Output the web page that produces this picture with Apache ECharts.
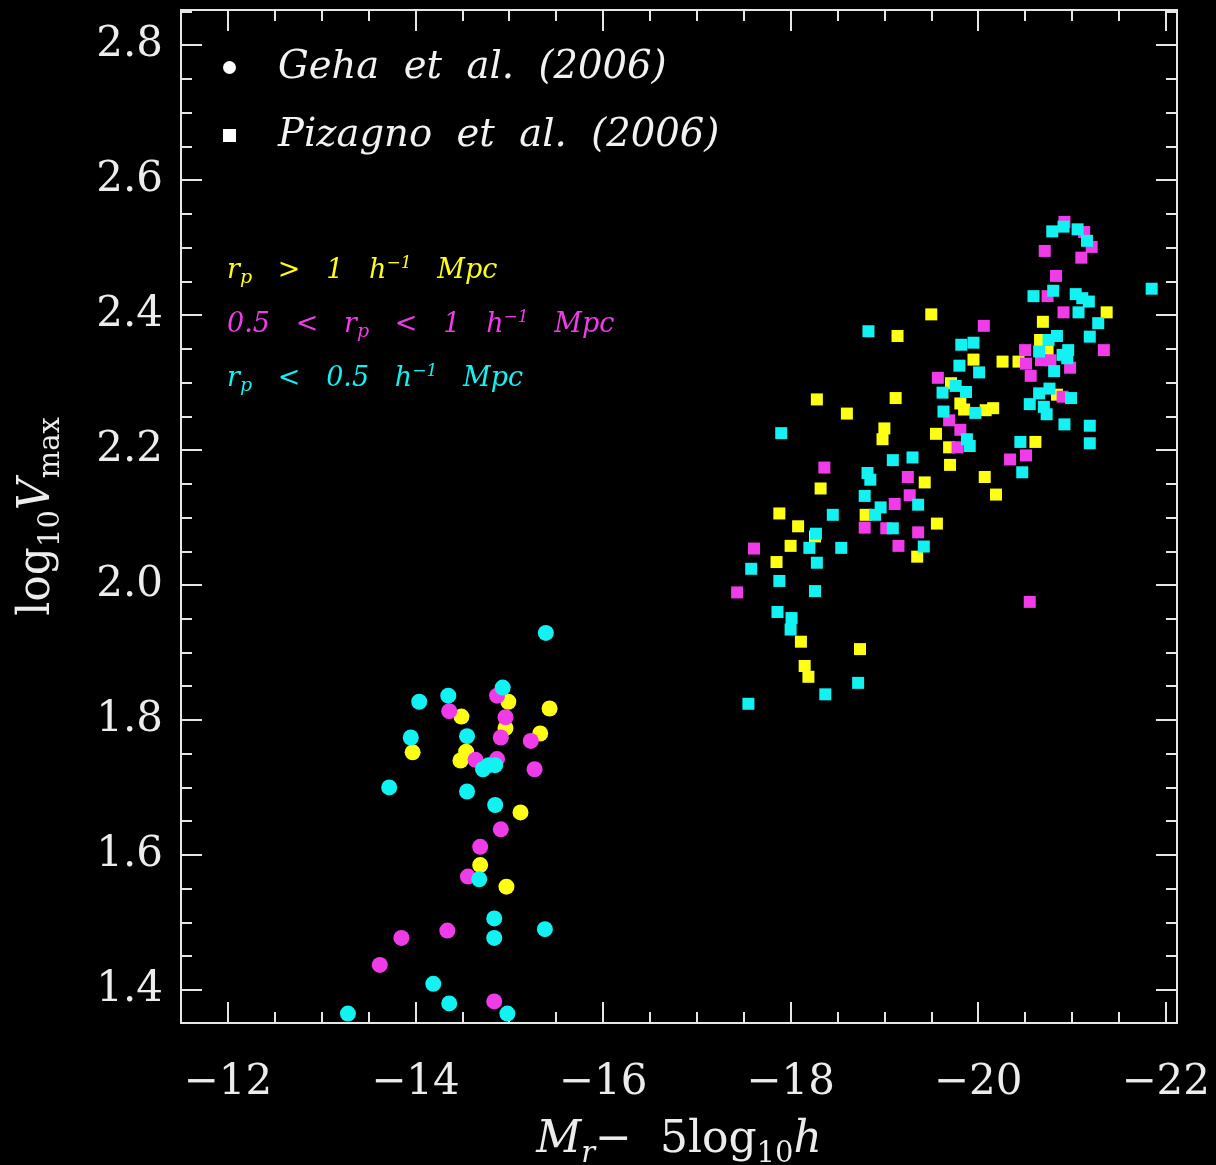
<!DOCTYPE html>
<html>
<head>
<meta charset="utf-8">
<script src="https://cdn.jsdelivr.net/npm/echarts@6/dist/echarts.min.js"></script>
<style>
html,body{margin:0;padding:0;background:#000;}
#chart{width:1216px;height:1165px;}
</style>
</head>
<body>
<div id="chart"></div>
<script>
// ---------- data ----------
const xMajorTicks = [-22, -20, -18, -16, -14, -12];
const xMinorTicks = [-22, -21.5, -21, -20.5, -20, -19.5, -19, -18.5, -18, -17.5, -17, -16.5, -16, -15.5, -15, -14.5, -14, -13.5, -13, -12.5, -12];
const yMajorTicks = [1.4, 1.6, 1.8, 2.0, 2.2, 2.4, 2.6, 2.8];
const yMinorTicks = [1.35, 1.4, 1.45, 1.5, 1.55, 1.6, 1.65, 1.7, 1.75, 1.8, 1.85, 1.9, 1.95, 2.0, 2.05, 2.1, 2.15, 2.2, 2.25, 2.3, 2.35, 2.4, 2.45, 2.5, 2.55, 2.6, 2.65, 2.7, 2.75, 2.8, 2.85];

// Geha et al. (2006) -- circles
const gehaYellow = [[-14.99,1.827],[-15.43,1.817],[-14.49,1.805],[-14.96,1.788],[-15.33,1.780],[-13.97,1.752],[-14.54,1.753],[-14.48,1.740],[-15.12,1.663],[-14.69,1.585],[-14.97,1.553]];
const gehaMagenta = [[-14.87,1.836],[-14.36,1.813],[-14.96,1.804],[-14.91,1.774],[-15.23,1.769],[-14.64,1.741],[-14.87,1.742],[-15.27,1.727],[-14.91,1.638],[-14.69,1.612],[-14.56,1.568],[-14.34,1.488],[-13.85,1.477],[-13.62,1.437],[-14.84,1.383]];
const gehaCyan = [[-15.39,1.929],[-14.93,1.848],[-14.04,1.827],[-14.35,1.836],[-13.95,1.774],[-14.55,1.776],[-14.78,1.733],[-14.85,1.733],[-14.72,1.727],[-13.72,1.700],[-14.55,1.694],[-14.85,1.674],[-14.68,1.564],[-14.84,1.506],[-15.38,1.490],[-14.84,1.477],[-14.19,1.409],[-14.36,1.380],[-14.98,1.365],[-13.28,1.365]];

// Pizagno et al. (2006) -- squares
const pizagnoYellow = [[-19.50,2.401],[-19.14,2.369],[-18.28,2.275],[-19.12,2.277],[-18.60,2.254],[-19.00,2.232],[-18.98,2.216],[-19.55,2.224],[-18.32,2.143],[-19.43,2.152],[-17.88,2.106],[-18.80,2.104],[-19.56,2.091],[-19.35,2.042],[-18.08,2.087],[-18.26,2.072],[-18.00,2.058],[-17.85,2.034],[-18.11,1.916],[-18.74,1.905],[-18.15,1.880],[-18.19,1.864],[-21.37,2.404],[-20.69,2.390],[-20.66,2.363],[-20.74,2.348],[-20.26,2.331],[-20.43,2.331],[-20.84,2.282],[-20.61,2.212],[-19.95,2.334],[-19.71,2.299],[-19.81,2.269],[-19.85,2.260],[-20.08,2.259],[-20.16,2.262],[-19.69,2.204],[-19.70,2.178],[-20.07,2.160],[-20.19,2.134]];
const pizagnoMagenta = [[-18.36,2.174],[-19.25,2.160],[-19.27,2.133],[-19.11,2.120],[-18.79,2.085],[-19.02,2.084],[-19.36,2.078],[-19.15,2.058],[-17.61,2.054],[-17.43,1.989],[-20.92,2.538],[-21.13,2.523],[-21.21,2.501],[-20.71,2.495],[-21.10,2.485],[-20.83,2.458],[-20.74,2.428],[-20.91,2.404],[-21.34,2.348],[-20.50,2.348],[-20.51,2.328],[-20.67,2.333],[-20.77,2.333],[-20.98,2.322],[-20.56,2.310],[-20.90,2.279],[-20.06,2.384],[-19.57,2.307],[-19.69,2.244],[-19.81,2.230],[-19.78,2.204],[-20.34,2.186],[-20.51,2.192],[-20.55,1.975]];
const pizagnoCyan = [[-18.83,2.376],[-17.90,2.225],[-19.09,2.185],[-19.30,2.189],[-18.82,2.166],[-18.85,2.156],[-18.79,2.132],[-18.45,2.104],[-18.96,2.115],[-18.90,2.104],[-19.36,2.119],[-19.09,2.084],[-19.42,2.057],[-18.27,2.076],[-18.20,2.055],[-18.54,2.055],[-18.28,2.033],[-17.58,2.024],[-17.88,2.006],[-18.26,1.991],[-17.86,1.960],[-18.01,1.951],[-18.00,1.934],[-18.72,1.855],[-18.37,1.838],[-17.55,1.824],[-20.79,2.524],[-20.91,2.531],[-21.06,2.527],[-21.16,2.510],[-20.59,2.428],[-20.80,2.436],[-21.04,2.431],[-21.11,2.425],[-21.18,2.420],[-21.07,2.404],[-21.28,2.388],[-21.19,2.368],[-20.75,2.363],[-20.84,2.369],[-20.65,2.346],[-20.90,2.341],[-20.96,2.348],[-20.95,2.336],[-20.81,2.317],[-20.65,2.284],[-20.76,2.291],[-20.99,2.277],[-20.55,2.268],[-20.70,2.264],[-20.73,2.253],[-20.92,2.238],[-21.19,2.236],[-20.45,2.212],[-21.19,2.210],[-21.85,2.439],[-19.82,2.356],[-19.95,2.359],[-19.80,2.325],[-20.01,2.315],[-19.62,2.285],[-19.76,2.295],[-19.87,2.286],[-19.97,2.255],[-19.63,2.257],[-19.88,2.216],[-19.91,2.206],[-20.47,2.167]];

const GEHA = 'Geha et al. (2006)';
const PIZ = 'Pizagno et al. (2006)';

// ---------- style ----------
const YELLOW = '#ffff14';
const MAGENTA = '#f03ce8';
const CYAN = '#12f2f2';
const FRAME = '#e6e6e6';
const TICKFONT = 'DejaVu Serif';

const chart = echarts.init(document.getElementById('chart'), null, {renderer: 'canvas'});

function minusFmt(v) {
  return v < 0 ? '\u2212' + Math.abs(v) : String(v);
}

function axisBase(extra) {
  return Object.assign({
    type: 'value',
    gridIndex: 0,
    splitLine: {show: false},
    axisLine: {show: true, onZero: false, lineStyle: {color: FRAME, width: 2}},
    axisLabel: {show: false},
    axisPointer: {show: false}
  }, extra);
}

const X_MIN = -22.12, X_MAX = -11.5;
const Y_MIN = 1.351, Y_MAX = 2.852;

function xAxisCfg(position, ticks, len, labels) {
  return axisBase({
    position: position, inverse: true, min: X_MIN, max: X_MAX,
    axisTick: {show: true, inside: true, length: len, customValues: ticks, lineStyle: {color: FRAME, width: 2}},
    axisLabel: labels ? {
      show: true, customValues: ticks, margin: 39, color: '#ececec',
      fontFamily: TICKFONT, fontSize: 42, formatter: minusFmt
    } : {show: false}
  });
}
function yAxisCfg(position, ticks, len, labels) {
  return axisBase({
    position: position, min: Y_MIN, max: Y_MAX,
    axisTick: {show: true, inside: true, length: len, customValues: ticks, lineStyle: {color: FRAME, width: 2}},
    axisLabel: labels ? {
      show: true, customValues: ticks, margin: 18, color: '#ececec',
      fontFamily: TICKFONT, fontSize: 42, formatter: v => v.toFixed(1)
    } : {show: false}
  });
}

const nameRich = {
  it: {fontFamily: 'DejaVu Serif', fontStyle: 'italic', fontSize: 44, color: '#ececec', lineHeight: 50, verticalAlign: 'middle'},
  rm: {fontFamily: 'DejaVu Serif', fontSize: 44, color: '#ececec', lineHeight: 50, verticalAlign: 'middle'},
  sub: {fontFamily: 'DejaVu Serif', fontSize: 29, color: '#ececec', lineHeight: 29, padding: [26, 0, 0, 0], verticalAlign: 'middle'},
  subit: {fontFamily: 'DejaVu Serif', fontStyle: 'italic', fontSize: 29, color: '#ececec', lineHeight: 29, padding: [26, 0, 0, 0], verticalAlign: 'middle'}
};

const xMain = xAxisCfg('bottom', xMajorTicks, 21, true);
xMain.name = '{it|M}{subit|r}{rm|\u2212  5log}{sub|10}{it|h}';
xMain.nameLocation = 'middle';
xMain.nameGap = 93;
xMain.nameTextStyle = {color: '#ececec', rich: nameRich};

const yMain = yAxisCfg('left', yMajorTicks, 21, true);
yMain.name = '{rm|log}{sub|10}{it|V}{sub|max}';
yMain.nameLocation = 'middle';
yMain.nameRotate = 90;
yMain.nameGap = 118;
yMain.nameTextStyle = {color: '#ececec', rich: nameRich};

function annRich(color) {
  return {
    i: {fontFamily: 'DejaVu Serif', fontStyle: 'italic', fontSize: 27, fill: color, color: color, lineHeight: 30, verticalAlign: 'middle'},
    s: {fontFamily: 'DejaVu Serif', fontStyle: 'italic', fontSize: 19, fill: color, color: color, lineHeight: 19, padding: [15, 0, 0, 0], verticalAlign: 'middle'},
    u: {fontFamily: 'DejaVu Serif', fontStyle: 'italic', fontSize: 17, fill: color, color: color, lineHeight: 17, padding: [0, 0, 15, 0], verticalAlign: 'middle'}
  };
}

function scatter(name, symbol, size, color, data) {
  return {
    type: 'scatter', name: name, symbol: symbol, symbolSize: size,
    itemStyle: {color: color, opacity: 1},
    emphasis: {disabled: true},
    xAxisIndex: 0, yAxisIndex: 0,
    data: data, animation: false
  };
}

const option = {
  backgroundColor: '#000',
  animation: false,
  grid: {left: 181, right: 39, top: 10, bottom: 142, containLabel: false, outerBoundsMode: 'none'},
  xAxis: [
    xMain,
    xAxisCfg('bottom', xMinorTicks, 11, false),
    xAxisCfg('top', xMajorTicks, 21, false),
    xAxisCfg('top', xMinorTicks, 11, false)
  ],
  yAxis: [
    yMain,
    yAxisCfg('left', yMinorTicks, 11, false),
    yAxisCfg('right', yMajorTicks, 21, false),
    yAxisCfg('right', yMinorTicks, 11, false)
  ],
  legend: {
    orient: 'vertical', left: 223, top: 48, padding: 0,
    itemWidth: 13, itemHeight: 13, itemGap: 29,
    selectedMode: false,
    formatter: name => name.replace(/ /g, '  '),
    textStyle: {color: '#f2f2f2', fontFamily: 'DejaVu Serif', fontStyle: 'italic', fontSize: 38.5, padding: [0, 0, 0, 37]},
    data: [
      {name: GEHA, icon: 'circle', itemStyle: {color: '#ffffff'}},
      {name: PIZ, icon: 'rect', itemStyle: {color: '#ffffff'}}
    ]
  },
  graphic: [
    {type: 'text', x: 227, y: 271, style: {text: '{i|r}{s|p}{i|   >   1   h}{u|\u22121}{i|   Mpc}', rich: annRich(YELLOW), fill: YELLOW, verticalAlign: 'middle', align: 'left'}},
    {type: 'text', x: 227, y: 325, style: {text: '{i|0.5   <   r}{s|p}{i|   <   1   h}{u|\u22121}{i|   Mpc}', rich: annRich(MAGENTA), fill: MAGENTA, verticalAlign: 'middle', align: 'left'}},
    {type: 'text', x: 227, y: 379, style: {text: '{i|r}{s|p}{i|   <   0.5   h}{u|\u22121}{i|   Mpc}', rich: annRich(CYAN), fill: CYAN, verticalAlign: 'middle', align: 'left'}}
  ],
  series: [
    scatter(PIZ, 'rect', 12, YELLOW, pizagnoYellow),
    scatter(PIZ, 'rect', 12, MAGENTA, pizagnoMagenta),
    scatter(PIZ, 'rect', 12, CYAN, pizagnoCyan),
    scatter(GEHA, 'circle', 16, YELLOW, gehaYellow),
    scatter(GEHA, 'circle', 16, MAGENTA, gehaMagenta),
    scatter(GEHA, 'circle', 16, CYAN, gehaCyan)
  ]
};
chart.setOption(option);
</script>
</body>
</html>
